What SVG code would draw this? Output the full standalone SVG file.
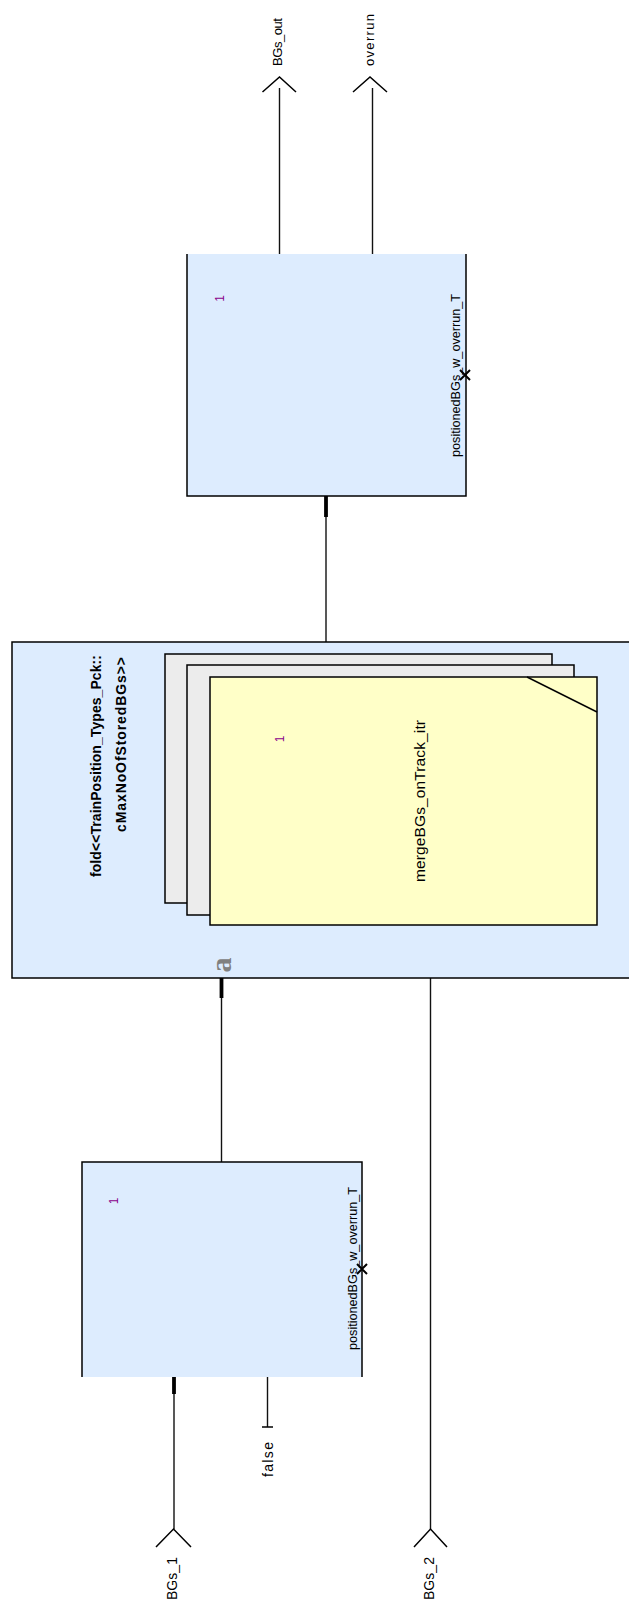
<svg xmlns="http://www.w3.org/2000/svg" width="629" height="1604" viewBox="0 0 629 1604">
<style>
.blk{fill:#ddecfe;stroke:none}
.edge{fill:none;stroke:#000;stroke-width:1.5}
.wire{fill:none;stroke:#111;stroke-width:1.4}
.thick{fill:none;stroke:#000;stroke-width:3.8}
.arr{fill:none;stroke:#000;stroke-width:1.5}
.t{font-family:"Liberation Sans",Arial,sans-serif;font-size:13px;fill:#000}
.t14{font-size:14px}
.big{font-size:15.5px}
.b{font-weight:bold;font-size:14px}
.one{font-family:"Liberation Sans",Arial,sans-serif;font-size:12px;fill:#8b008b}
.gray{fill:#ececec;stroke:#000;stroke-width:1.5}
.yel{fill:#ffffc8;stroke:#000;stroke-width:1.5}
</style>

<g id="connectors">
  <line class="wire" x1="174" y1="1377" x2="174" y2="1529"/>
  <line class="thick" x1="174" y1="1377" x2="174" y2="1394"/>
  <line class="wire" x1="267.5" y1="1377" x2="267.5" y2="1427"/>
  <line class="wire" x1="221.5" y1="978" x2="221.5" y2="1162"/>
  <line class="thick" x1="221.5" y1="978" x2="221.5" y2="998"/>
  <line class="wire" x1="430.5" y1="978" x2="430.5" y2="1529"/>
  <line class="wire" x1="326" y1="496" x2="326" y2="642"/>
  <line class="thick" x1="326" y1="496" x2="326" y2="517"/>
  <line class="wire" x1="279.5" y1="88" x2="279.5" y2="254"/>
  <line class="wire" x1="372.5" y1="88" x2="372.5" y2="254"/>
</g>

<g id="in_BGs_1">
  <polyline class="arr" points="156,1547 173.5,1529 191,1547"/>
  <text class="t t14" transform="translate(177,1600) rotate(-90)" textLength="43" lengthAdjust="spacing">BGs_1</text>
</g>

<g id="in_BGs_2">
  <polyline class="arr" points="414,1547 430.5,1529 447,1547"/>
  <text class="t t14" transform="translate(434,1600) rotate(-90)" textLength="43" lengthAdjust="spacing">BGs_2</text>
</g>

<g id="const_false">
  <line class="arr" x1="262" y1="1427" x2="273" y2="1427"/>
  <text class="t t14" transform="translate(272.5,1477) rotate(-90)" textLength="35" lengthAdjust="spacing">false</text>
</g>

<g id="op_positionedBGs_1">
  <rect class="blk" x="82" y="1162" width="280" height="215"/>
  <polyline class="edge" points="82,1377 82,1162 362,1162 362,1377"/>
  <text class="one" text-anchor="middle" transform="translate(118,1201) rotate(-90)">1</text>
  <text class="t" transform="translate(357,1350) rotate(-90)" textLength="163" lengthAdjust="spacingAndGlyphs">positionedBGs_w_overrun_T</text>
  <path d="M357,1264 L367,1274 M367,1264 L357,1274" stroke="#000" stroke-width="2" fill="none"/>
</g>

<g id="fold_mergeBGs">
  <rect class="blk" x="12" y="642" width="620" height="336"/>
  <polyline class="edge" points="632,642 12,642 12,978 632,978"/>
  <text class="t b" transform="translate(101,877) rotate(-90)" textLength="222" lengthAdjust="spacing">fold&lt;&lt;TrainPosition_Types_Pck::</text>
  <text class="t b" transform="translate(126,832) rotate(-90)" textLength="175" lengthAdjust="spacing">cMaxNoOfStoredBGs&gt;&gt;</text>
  <rect class="gray" x="165" y="654" width="387" height="249"/>
  <rect class="gray" x="187" y="665" width="387" height="250"/>
  <rect class="yel" x="210" y="677" width="387" height="248"/>
  <line class="edge" x1="527" y1="677" x2="597" y2="712"/>
  <text class="one" text-anchor="middle" transform="translate(284,739) rotate(-90)">1</text>
  <text class="t big" transform="translate(425,882) rotate(-90)" textLength="162" lengthAdjust="spacing">mergeBGs_onTrack_itr</text>
  <text transform="translate(231,965) rotate(-90)" text-anchor="middle" font-family="Liberation Serif,serif" font-weight="bold" font-size="30" fill="#808080">a</text>
</g>

<g id="op_positionedBGs_2">
  <rect class="blk" x="187" y="254" width="279" height="242"/>
  <polyline class="edge" points="187,254 187,496 466,496 466,254"/>
  <text class="one" text-anchor="middle" transform="translate(224,298.5) rotate(-90)">1</text>
  <text class="t" transform="translate(460,457) rotate(-90)" textLength="163" lengthAdjust="spacingAndGlyphs">positionedBGs_w_overrun_T</text>
  <path d="M460,370 L470,380 M470,370 L460,380" stroke="#000" stroke-width="2" fill="none"/>
</g>

<g id="out_BGs_out">
  <polyline class="arr" points="262.5,92 279.5,77 296,92"/>
  <text class="t" transform="translate(282,66) rotate(-90)" textLength="48" lengthAdjust="spacing">BGs_out</text>
</g>

<g id="out_overrun">
  <polyline class="arr" points="353,92 370,77 387,92"/>
  <text class="t" transform="translate(374,66) rotate(-90)" textLength="52" lengthAdjust="spacing">overrun</text>
</g>
</svg>
